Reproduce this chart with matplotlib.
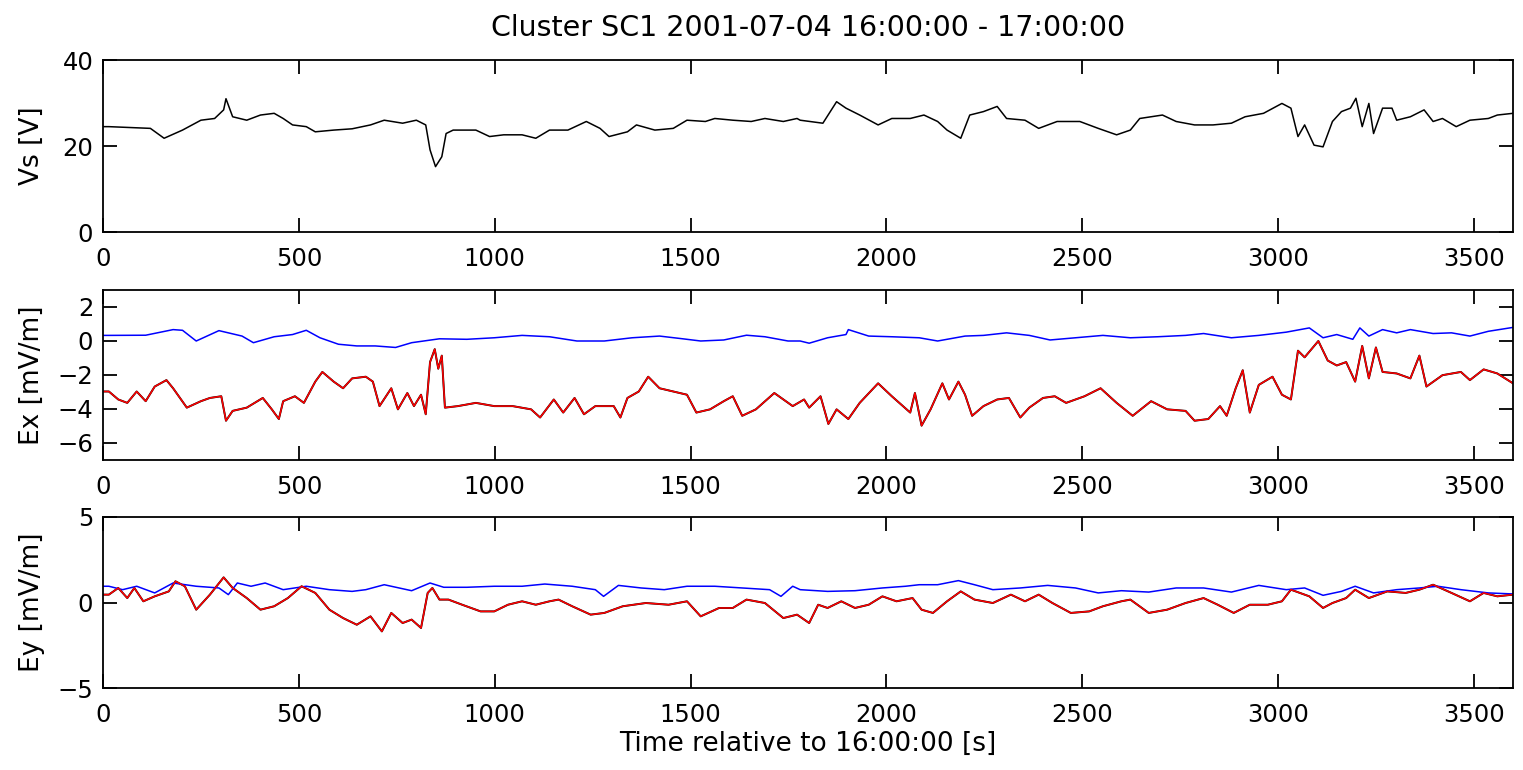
import matplotlib
matplotlib.use("Agg")
import matplotlib.pyplot as plt

plt.rcParams['font.family'] = ['DejaVu Sans']

# ---------------- data ----------------
vs_t = [0, 15, 121, 156, 203, 250, 285, 308, 314, 331, 367, 402, 437, 460, 484, 519, 542, 589, 636,
        683, 718, 765, 800, 824, 835, 849, 865, 876, 894, 952, 987, 1023, 1070, 1105, 1140, 1187,
        1234, 1269, 1292, 1339, 1362, 1409, 1456, 1491, 1538, 1562, 1608, 1655, 1690, 1737, 1772,
        1780, 1838, 1873, 1897, 1932, 1979, 2014, 2061, 2096, 2131, 2155, 2190, 2213, 2248, 2283,
        2307, 2354, 2389, 2436, 2494, 2541, 2588, 2623, 2647, 2705, 2740, 2787, 2834, 2881, 2916,
        2963, 3010, 3033, 3051, 3068, 3092, 3115, 3139, 3162, 3185, 3199, 3215, 3232, 3244, 3267,
        3291, 3303, 3338, 3373, 3396, 3420, 3455, 3490, 3537, 3560, 3600]
vs_v = [24.5, 24.5, 24.1, 21.8, 23.7, 26.0, 26.4, 28.4, 31.0, 26.8, 26.0, 27.2, 27.6, 26.4, 24.9,
        24.5, 23.3, 23.7, 24.0, 24.9, 26.0, 25.3, 26.0, 24.9, 19.1, 15.2, 17.5, 22.9, 23.7, 23.7,
        22.2, 22.6, 22.6, 21.8, 23.7, 23.7, 25.7, 24.1, 22.2, 23.3, 24.9, 23.7, 24.1, 26.0, 25.7,
        26.4, 26.0, 25.7, 26.4, 25.7, 26.4, 26.0, 25.3, 30.3, 28.8, 27.2, 24.9, 26.4, 26.4, 27.2,
        25.7, 23.7, 21.8, 27.2, 28.0, 29.2, 26.4, 26.0, 24.1, 25.7, 25.7, 24.1, 22.6, 23.7, 26.4,
        27.2, 25.7, 24.9, 24.9, 25.3, 26.8, 27.6, 29.9, 28.8, 22.2, 24.9, 20.2, 19.8, 25.7, 28.0,
        28.8, 31.1, 24.5, 29.9, 22.9, 28.8, 28.8, 26.0, 26.8, 28.4, 25.7, 26.4, 24.5, 26.0, 26.4,
        27.2, 27.6]

exb_t = [0, 15, 109, 179, 203, 238, 296, 355, 384, 437, 484, 519, 554, 601, 648, 695, 747, 788,
         859, 929, 999, 1070, 1140, 1210, 1280, 1351, 1421, 1480, 1526, 1585, 1643, 1690, 1749,
         1780, 1803, 1850, 1897, 1903, 1955, 2014, 2084, 2131, 2201, 2248, 2307, 2365, 2418, 2483,
         2553, 2623, 2693, 2764, 2810, 2881, 2951, 3021, 3080, 3115, 3150, 3191, 3209, 3232, 3267,
         3303, 3338, 3396, 3443, 3490, 3537, 3600]
exb_v = [0.33, 0.33, 0.34, 0.67, 0.63, 0.0, 0.61, 0.29, -0.1, 0.25, 0.38, 0.63, 0.19, -0.19,
         -0.29, -0.29, -0.38, -0.1, 0.13, 0.1, 0.19, 0.33, 0.25, 0.0, 0.0, 0.19, 0.29, 0.13, 0.0,
         0.06, 0.34, 0.25, 0.0, 0.0, -0.13, 0.19, 0.38, 0.67, 0.29, 0.25, 0.19, 0.0, 0.29, 0.33,
         0.48, 0.33, 0.06, 0.19, 0.33, 0.19, 0.25, 0.33, 0.44, 0.19, 0.33, 0.52, 0.77, 0.19, 0.38,
         0.1, 0.77, 0.29, 0.67, 0.48, 0.67, 0.44, 0.48, 0.29, 0.57, 0.8]

exr_t = [0, 15, 39, 62, 86, 109, 132, 162, 179, 214, 250, 273, 302, 314, 331, 367, 408, 431, 449,
         460, 490, 513, 542, 560, 589, 613, 636, 671, 689, 706, 736, 753, 777, 794, 812, 824, 835,
         847, 856, 865, 873, 906, 952, 999, 1046, 1093, 1116, 1151, 1175, 1204, 1228, 1257, 1304,
         1321, 1339, 1368, 1392, 1421, 1456, 1491, 1515, 1550, 1585, 1608, 1632, 1667, 1714, 1737,
         1761, 1790, 1803, 1832, 1852, 1873, 1903, 1932, 1979, 2014, 2061, 2073, 2090, 2113, 2143,
         2160, 2184, 2201, 2219, 2248, 2283, 2313, 2342, 2365, 2400, 2430, 2459, 2506, 2547, 2588,
         2629, 2676, 2717, 2764, 2787, 2822, 2852, 2869, 2892, 2910, 2928, 2951, 2986, 3010, 3033,
         3051, 3068, 3103, 3127, 3150, 3174, 3197, 3215, 3232, 3250, 3267, 3303, 3338, 3361, 3379,
         3420, 3467, 3490, 3525, 3560, 3600]
exr_v = [-2.97, -2.97, -3.44, -3.64, -2.97, -3.54, -2.68, -2.3, -2.78, -3.92, -3.54, -3.35, -3.25,
         -4.69, -4.11, -3.92, -3.35, -4.02, -4.59, -3.54, -3.25, -3.64, -2.39, -1.82, -2.39, -2.78,
         -2.2, -2.1, -2.39, -3.83, -2.78, -4.02, -3.06, -3.83, -3.16, -4.31, -1.24, -0.48, -1.63,
         -0.86, -3.92, -3.83, -3.64, -3.83, -3.83, -4.02, -4.5, -3.44, -4.21, -3.35, -4.31, -3.83,
         -3.83, -4.5, -3.35, -2.97, -2.1, -2.78, -2.97, -3.16, -4.21, -4.02, -3.54, -3.25, -4.4,
         -4.02, -3.06, -3.44, -3.83, -3.44, -3.92, -3.25, -4.88, -4.02, -4.59, -3.64, -2.49, -3.25,
         -4.21, -3.06, -4.98, -4.02, -2.49, -3.44, -2.39, -3.16, -4.4, -3.83, -3.44, -3.35, -4.5,
         -3.92, -3.35, -3.25, -3.64, -3.25, -2.78, -3.64, -4.4, -3.54, -4.02, -4.11, -4.69, -4.59,
         -3.83, -4.4, -2.78, -1.72, -4.21, -2.58, -2.1, -3.16, -3.44, -0.57, -0.96, 0.0, -1.15,
         -1.44, -1.24, -2.39, -0.29, -2.2, -0.38, -1.82, -1.91, -2.2, -0.86, -2.68, -2.01, -1.82,
         -2.3, -1.67, -1.91, -2.49]

eyb_t = [0, 15, 50, 86, 132, 179, 238, 296, 320, 343, 378, 414, 460, 519, 578, 636, 671, 718, 788,
         835, 870, 929, 999, 1070, 1128, 1198, 1257, 1278, 1316, 1374, 1433, 1491, 1562, 1632,
         1702, 1731, 1761, 1780, 1850, 1920, 1990, 2049, 2084, 2131, 2184, 2225, 2272, 2342, 2412,
         2483, 2541, 2600, 2670, 2740, 2810, 2881, 2951, 3021, 3068, 3115, 3162, 3197, 3244, 3303,
         3361, 3408, 3467, 3537, 3600]
eyb_v = [0.95, 0.95, 0.75, 0.95, 0.56, 1.14, 0.95, 0.85, 0.46, 1.14, 0.95, 1.14, 0.75, 0.95, 0.75,
         0.65, 0.75, 1.04, 0.69, 1.14, 0.89, 0.89, 0.95, 0.95, 1.08, 0.95, 0.75, 0.36, 1.0, 0.85,
         0.75, 0.95, 0.95, 0.85, 0.75, 0.36, 0.95, 0.75, 0.65, 0.69, 0.85, 0.95, 1.04, 1.04, 1.28,
         1.04, 0.75, 0.85, 1.0, 0.85, 0.56, 0.69, 0.61, 0.85, 0.85, 0.61, 1.0, 0.75, 0.85, 0.42,
         0.65, 0.95, 0.56, 0.75, 0.85, 0.95, 0.75, 0.56, 0.5]

eyr_t = [0, 15, 39, 62, 80, 103, 132, 168, 185, 209, 238, 273, 308, 331, 367, 402, 437, 472, 507,
         542, 578, 613, 648, 683, 712, 736, 765, 788, 812, 829, 841, 859, 882, 917, 964, 999, 1034,
         1070, 1105, 1140, 1163, 1198, 1245, 1280, 1327, 1386, 1444, 1491, 1526, 1573, 1608, 1643,
         1690, 1737, 1772, 1803, 1826, 1850, 1885, 1920, 1955, 1990, 2026, 2067, 2090, 2119, 2155,
         2190, 2225, 2272, 2318, 2354, 2389, 2424, 2471, 2518, 2553, 2600, 2623, 2670, 2717, 2764,
         2810, 2846, 2887, 2928, 2974, 3010, 3033, 3080, 3115, 3139, 3174, 3197, 3232, 3279, 3326,
         3361, 3396, 3443, 3490, 3525, 3560, 3600]
eyr_v = [0.46, 0.46, 0.85, 0.26, 0.85, 0.07, 0.36, 0.65, 1.24, 0.95, -0.42, 0.46, 1.47, 0.85,
         0.26, -0.42, -0.22, 0.26, 0.95, 0.56, -0.42, -0.91, -1.3, -0.81, -1.69, -0.61, -1.2, -1.0,
         -1.49, 0.56, 0.85, 0.17, 0.17, -0.13, -0.52, -0.52, -0.13, 0.07, -0.13, 0.07, 0.17, -0.22,
         -0.71, -0.61, -0.22, -0.03, -0.13, 0.07, -0.81, -0.32, -0.32, 0.17, -0.03, -0.91, -0.71,
         -1.2, -0.13, -0.32, 0.07, -0.32, -0.13, 0.36, 0.07, 0.26, -0.42, -0.61, 0.07, 0.65, 0.17,
         -0.03, 0.46, 0.07, 0.46, -0.03, -0.61, -0.52, -0.22, 0.07, 0.17, -0.61, -0.42, -0.03, 0.26,
         -0.13, -0.61, -0.13, -0.13, 0.07, 0.75, 0.36, -0.32, -0.03, 0.26, 0.75, 0.26, 0.65, 0.56,
         0.75, 1.04, 0.56, 0.07, 0.56, 0.36, 0.46]

x_ticks = [0, 500, 1000, 1500, 2000, 2500, 3000, 3500]
title = "Cluster SC1 2001-07-04 16:00:00 - 17:00:00"
xlabel = "Time relative to 16:00:00 [s]"

# ---------------- figure ----------------
W, H = 1523, 770
fig = plt.figure(figsize=(W / 100, H / 100), dpi=100)

def px_axes(top, bottom, left=103, right=1513):
    return fig.add_axes([left / W, 1 - bottom / H, (right - left) / W, (bottom - top) / H])

ax1 = px_axes(60, 232)
ax2 = px_axes(290, 460)
ax3 = px_axes(517, 688)

ax1.plot(vs_t, vs_v, color='black', lw=1.1)
ax2.plot(exb_t, exb_v, color='blue', lw=1.1)
ax2.plot(exr_t, exr_v, color='black', lw=1.4)
ax2.plot(exr_t, exr_v, color='red', lw=1.1)
ax3.plot(eyr_t, eyr_v, color='black', lw=1.4)
ax3.plot(eyb_t, eyb_v, color='blue', lw=1.1)
ax3.plot(eyr_t, eyr_v, color='red', lw=1.1)

TICK_FS = 17.5
LABEL_FS = 19
TITLE_FS = 20.5

ax1.set_ylim(0, 40)
ax1.set_yticks([0, 20, 40])
ax1.set_ylabel("Vs [V]", fontsize=LABEL_FS)
ax2.set_ylim(-7, 3)
ax2.set_yticks([-6, -4, -2, 0, 2])
ax2.set_ylabel("Ex [mV/m]", fontsize=LABEL_FS)
ax3.set_ylim(-5, 5)
ax3.set_yticks([-5, 0, 5])
ax3.set_ylabel("Ey [mV/m]", fontsize=LABEL_FS)

for ax in (ax1, ax2, ax3):
    ax.set_xlim(0, 3600)
    ax.set_xticks(x_ticks)
    ax.tick_params(direction='in', top=True, right=True, length=10, width=1.3,
                   labelsize=TICK_FS)
    ax.tick_params(axis='x', pad=11)
    ax.tick_params(axis='y', pad=7)
    for s in ax.spines.values():
        s.set_linewidth(1.3)
    ax.yaxis.set_label_coords(-0.041, 0.5)

fig.text((103 + 1513) / 2 / W, 1 - 36 / H, title, fontsize=TITLE_FS,
         ha='center', va='baseline')
ax3.set_xlabel(xlabel, fontsize=LABEL_FS)
ax3.xaxis.set_label_coords(0.5, -(731 - 688) / 171)
ax3.xaxis.label.set_va('top')

fig.savefig("out.png", dpi=100)
